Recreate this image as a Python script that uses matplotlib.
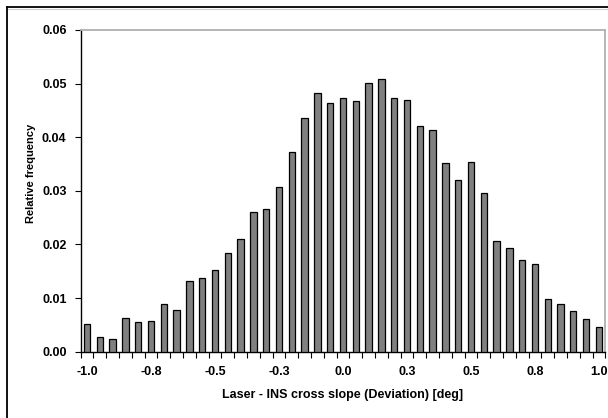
import matplotlib
matplotlib.use("Agg")
import matplotlib.pyplot as plt
import numpy as np
from decimal import Decimal, ROUND_HALF_UP
from matplotlib.lines import Line2D

categories = [round(-1.0 + 0.05 * i, 2) for i in range(41)]
frequency = [0.0052, 0.0027, 0.0024, 0.0063, 0.0055, 0.0057, 0.0089, 0.0078,
             0.0131, 0.0137, 0.0153, 0.0185, 0.0210, 0.0260, 0.0266, 0.0307,
             0.0373, 0.0435, 0.0483, 0.0463, 0.0473, 0.0467, 0.0501, 0.0509,
             0.0473, 0.0469, 0.0421, 0.0414, 0.0352, 0.0320, 0.0353, 0.0296,
             0.0207, 0.0193, 0.0171, 0.0163, 0.0099, 0.0089, 0.0075, 0.0061,
             0.0047]
y_ticks = [0.00, 0.01, 0.02, 0.03, 0.04, 0.05, 0.06]
x_label = "Laser - INS cross slope (Deviation) [deg]"
y_label = "Relative frequency"


def fmt1(v):
    d = Decimal(str(v)).quantize(Decimal("0.1"), rounding=ROUND_HALF_UP)
    s = f"{d:.1f}"
    return "0.0" if s == "-0.0" else s


plt.rcParams['font.family'] = ['Liberation Sans', 'DejaVu Sans']

W, H = 608, 418
fig = plt.figure(figsize=(W / 100, H / 100), dpi=100)
ax = fig.add_axes([80.5 / W, 1 - 351.7 / H, (605.3 - 80.5) / W, (351.7 - 30) / H])

# outer chart frame (cropped on right and bottom)
fig.add_artist(Line2D([6.5 / W, 1.02], [1 - 7.3 / H, 1 - 7.3 / H], transform=fig.transFigure,
                      color='black', lw=1.3))
fig.add_artist(Line2D([6.5 / W, 1.02], [1 - 8.8 / H, 1 - 8.8 / H], transform=fig.transFigure,
                      color='#d0d0d0', lw=0.8))
fig.add_artist(Line2D([6.5 / W, 6.5 / W], [-0.02, 1 - 7.3 / H], transform=fig.transFigure,
                      color='black', lw=1.3))

x = np.arange(len(categories))
width = 0.5
px = 1.0 / 12.8  # one pixel in category units
ax.bar(x + px, frequency, width=width, color='#c0c0c0', edgecolor='none', zorder=2)
ax.bar(x, frequency, width=width, color='#808080', edgecolor='black', linewidth=0.9, zorder=3)

ax.set_xlim(-0.5, len(categories) - 0.5)
ax.set_ylim(0, 0.06)
ax.set_yticks(y_ticks)
ax.set_yticklabels([f"{v:.2f}" for v in y_ticks])

ax.set_xticks(np.arange(-0.5, len(categories), 1.0), minor=False)
ax.set_xticklabels([])
label_idx = list(range(0, len(categories), 5))
ax.set_xticks(label_idx, minor=True)
ax.set_xticklabels([fmt1(categories[i]) for i in label_idx], minor=True)
ax.tick_params(axis='x', which='major', direction='out', length=4, width=0.8, color='black')
ax.tick_params(axis='x', which='minor', length=0, pad=10.5)
ax.tick_params(axis='y', direction='out', length=4, width=0.8, color='black', pad=6)

for lbl in ax.get_xticklabels(minor=True) + ax.get_yticklabels():
    lbl.set_fontsize(9)
    lbl.set_fontweight('bold')

ax.spines['left'].set_color('black')
ax.spines['bottom'].set_color('black')
ax.spines['left'].set_linewidth(1.0)
ax.spines['bottom'].set_linewidth(1.0)
ax.spines['top'].set_color('#b0b0b0')
ax.spines['right'].set_color('#b0b0b0')
ax.spines['top'].set_linewidth(1.3)
ax.spines['right'].set_linewidth(1.3)

ax.set_xlabel(x_label, fontsize=9, fontweight='bold', labelpad=8)
ax.set_ylabel(y_label, fontsize=8, fontweight='bold')
ax.yaxis.set_label_coords(-0.085, 0.555)

fig.savefig("out.png", dpi=100)
